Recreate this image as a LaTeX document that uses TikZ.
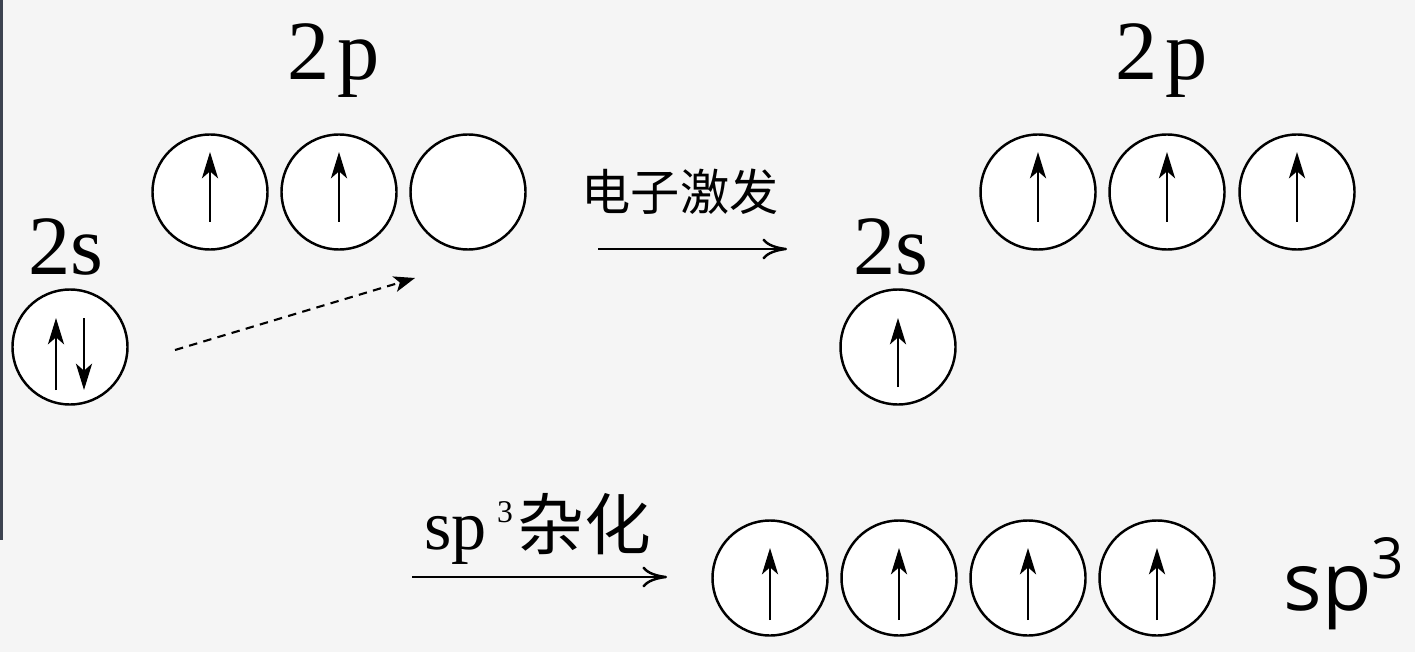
\documentclass[tikz,border=0pt]{standalone}
\usepackage{fontspec}
\setmainfont{Liberation Serif}
\newfontfamily\cjkfont{Noto Sans CJK SC}
\newfontfamily\labelsans{Open Sans}
\usetikzlibrary{arrows.meta}
\definecolor{edgebar}{HTML}{3D4350}

\begin{document}
\begin{tikzpicture}[
  orb/.style={circle,draw,fill=white,line width=0.7pt,minimum size=1.15cm,inner sep=0pt},
  spin/.style={line width=0.6pt,-{Stealth[length=7.5pt,width=4.6pt,inset=2pt]}},
  flow/.style={line width=0.7pt,-{To[length=7pt,width=6pt]}},
  lvl/.style={font=\fontsize{24}{24}\selectfont,anchor=base}]
  \useasboundingbox (0,0) rectangle (14.15,6.52);
  \fill[black!4] (0,0) rectangle (14.15,6.52);
  \fill[edgebar] (0,1.12) rectangle (0.03,6.52);

  % ground state
  \node[orb] (s1) at (0.70,3.05) {};
  \node[lvl] (s1lab) at (0.655,3.77) {2s};
  \draw[spin] ([xshift=-0.14cm,yshift=-0.43cm]s1.center) -- ++(0,0.72);
  \draw[spin] ([xshift=0.14cm,yshift=0.29cm]s1.center) -- ++(0,-0.72);
  \foreach \x/\n in {2.10/1,3.39/2,4.68/3} \node[orb] (p\n) at (\x,4.60) {};
  \foreach \n in {1,2} \draw[spin] ([yshift=-0.30cm]p\n.center) -- ++(0,0.70);
  \node[lvl] (p1lab) at (3.34,5.72) {2\kern0.08cm p};
  \coordinate (d1) at (1.75,3.02); \coordinate (d2) at (4.15,3.74);
  \draw[line width=0.6pt,dash pattern=on 2.4pt off 1.8pt,-{Stealth[length=6pt,width=4.5pt,inset=1.5pt]}] (d1) -- (d2);

  % excitation
  \node[font=\cjkfont\fontsize{14}{14}\selectfont] (exc) at (6.80,4.60) {电子激发};
  \coordinate (e1) at (5.98,4.03); \coordinate (e2) at (7.87,4.03);
  \draw[flow] (e1) -- (e2);

  % excited state
  \node[orb] (s2) at (8.98,3.05) {};
  \node[lvl] (s2lab) at (8.91,3.77) {2s};
  \draw[spin] ([yshift=-0.40cm]s2.center) -- ++(0,0.69);
  \foreach \x/\n in {10.38/4,11.67/5,12.97/6} {
    \node[orb] (p\n) at (\x,4.60) {};
    \draw[spin] ([yshift=-0.30cm]p\n.center) -- ++(0,0.70);
  }
  \node[lvl] (p2lab) at (11.62,5.72) {2\kern0.08cm p};

  % hybridisation
  \node[anchor=base] (hyb) at (5.38,1.03) {\fontsize{20}{20}\selectfont sp\hspace{0.1cm}\raisebox{0.27cm}{\fontsize{9}{9}\selectfont 3}\hspace{0.05cm}{\cjkfont\fontsize{19}{19}\selectfont 杂化}};
  \coordinate (h0) at (4.12,0.75); \coordinate (h9) at (6.67,0.75);
  \draw[flow] (h0) -- (h9);
  \foreach \x/\n in {7.70/1,8.99/2,10.28/3,11.57/4} {
    \node[orb] (h\n) at (\x,0.74) {};
    \draw[spin] ([yshift=-0.42cm]h\n.center) -- ++(0,0.72);
  }
  \node[anchor=base west,inner sep=0pt] (hyblab) at (12.83,0.42) {\labelsans\fontsize{23}{23}\selectfont sp\textsuperscript{3}};
\end{tikzpicture}
\end{document}
